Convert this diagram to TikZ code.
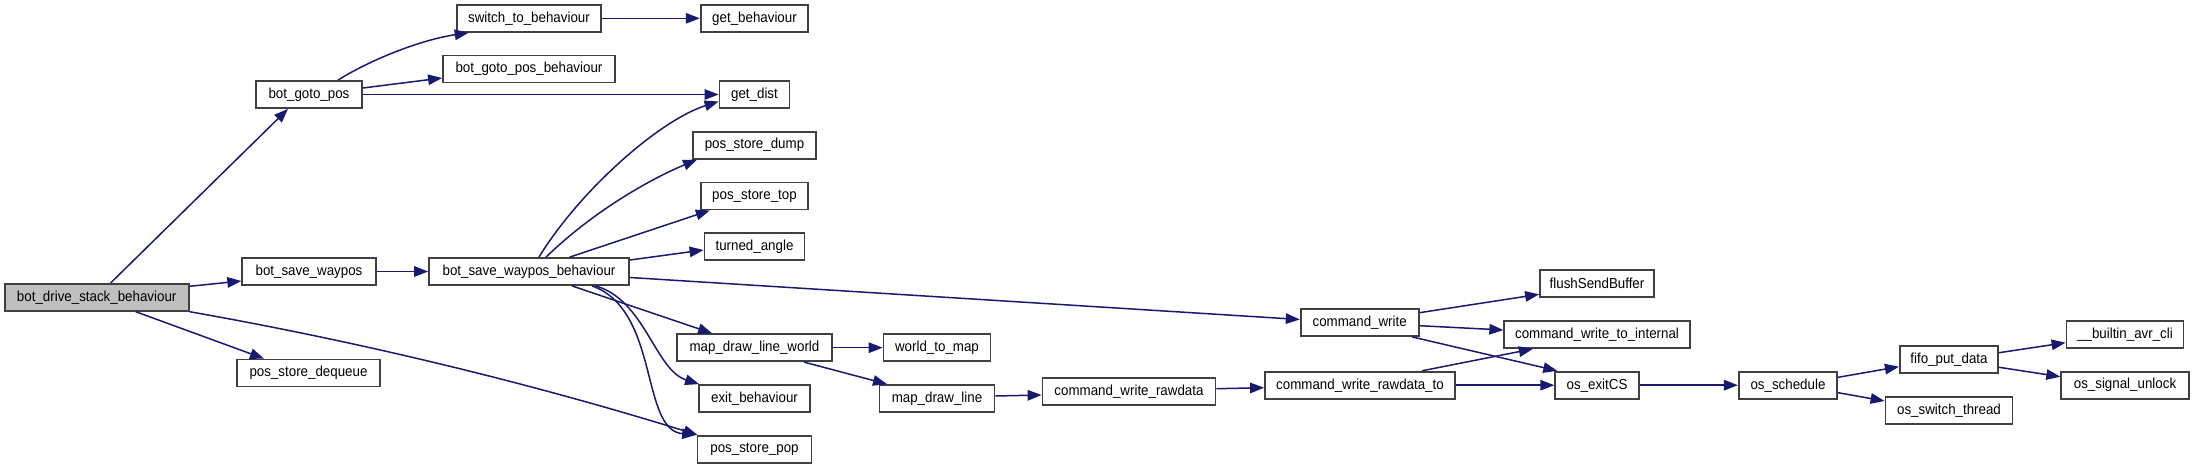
\documentclass[tikz,border=0pt]{standalone}
\usepackage{fontspec}
\setmainfont{Liberation Sans}[FakeStretch=0.92]
\usetikzlibrary{arrows.meta}
\definecolor{edgeblue}{HTML}{191970}
\begin{document}
\begin{tikzpicture}[x=1pt,y=-1pt,
 fn/.style={draw=black!75, line width=1.8pt, rectangle, minimum height=27pt, inner sep=0pt, font=\fontsize{14.5}{16}\selectfont, fill=white},
 callarrow/.style={draw=edgeblue, line width=1.5pt, -{Triangle[length=14pt,width=10.5pt]}}]
\useasboundingbox (0,0) rectangle (2195,468);
% nodes
\node[fn, minimum width=184pt, fill=black!25] (drive) at (96.7,297.3) {bot\_drive\_stack\_behaviour};
\node[fn, minimum width=106pt] (goto) at (309,94.5) {bot\_goto\_pos};
\node[fn, minimum width=144pt] (switch) at (529,18.3) {switch\_to\_behaviour};
\node[fn, minimum width=172pt] (gotobeh) at (529,69) {bot\_goto\_pos\_behaviour};
\node[fn, minimum width=133.5pt] (savew) at (309,271.5) {bot\_save\_waypos};
\node[fn, minimum width=200pt] (savewb) at (529,271.5) {bot\_save\_waypos\_behaviour};
\node[fn, minimum width=143pt] (dequeue) at (308.5,373) {pos\_store\_dequeue};
\node[fn, minimum width=107.6pt] (getbeh) at (754.5,18.3) {get\_behaviour};
\node[fn, minimum width=70pt] (getdist) at (754.5,94.5) {get\_dist};
\node[fn, minimum width=123pt] (dump) at (754.5,145.2) {pos\_store\_dump};
\node[fn, minimum width=107.6pt] (top) at (754.5,196) {pos\_store\_top};
\node[fn, minimum width=100pt] (turned) at (754.5,246.5) {turned\_angle};
\node[fn, minimum width=155pt] (mdlw) at (754.5,347.7) {map\_draw\_line\_world};
\node[fn, minimum width=111pt] (exitb) at (754.5,398.5) {exit\_behaviour};
\node[fn, minimum width=114pt] (pop) at (754.5,449.3) {pos\_store\_pop};
\node[fn, minimum width=107pt] (w2m) at (937,347.7) {world\_to\_map};
\node[fn, minimum width=115pt] (mdl) at (937,398.5) {map\_draw\_line};
\node[fn, minimum width=173pt] (cwr) at (1129,391.5) {command\_write\_rawdata};
\node[fn, minimum width=118pt] (cw) at (1359.7,322.5) {command\_write};
\node[fn, minimum width=190pt] (cwrt) at (1360,385.2) {command\_write\_rawdata\_to};
\node[fn, minimum width=114pt] (flush) at (1597,283.7) {flushSendBuffer};
\node[fn, minimum width=185.5pt] (cwti) at (1597,334.5) {command\_write\_to\_internal};
\node[fn, minimum width=83.7pt] (exitcs) at (1597,385.2) {os\_exitCS};
\node[fn, minimum width=98.4pt] (sched) at (1788,385.2) {os\_schedule};
\node[fn, minimum width=98.4pt] (fifo) at (1949,359.8) {fifo\_put\_data};
\node[fn, minimum width=127pt] (switcht) at (1949,410.5) {os\_switch\_thread};
\node[fn, minimum width=117pt] (avrcli) at (2125,334.5) {\_\_builtin\_avr\_cli};
\node[fn, minimum width=127.6pt] (unlock) at (2125,385.2) {os\_signal\_unlock};
% edges
\draw[callarrow] ([xshift=14pt]drive.north) -- ([xshift=-21pt]goto.south);
\draw[callarrow] ([yshift=11pt]drive.east) -- ([yshift=-9.5pt]savew.west);
\draw[callarrow] ([xshift=39pt]drive.south) -- ([xshift=-44.5pt]dequeue.north);
\draw[callarrow] (drive.south east) .. controls (350,340) and (520,380) .. ([xshift=1pt]pop.north west);
\draw[callarrow] ([xshift=29pt]goto.north) .. controls (370,60) and (420,40) .. ([xshift=12.6pt]switch.south west);
\draw[callarrow] ([yshift=6.5pt]goto.east) -- ([yshift=-9pt]gotobeh.west);
\draw[callarrow] (goto.east) -- (getdist.west);
\draw[callarrow] (switch.east) -- (getbeh.west);
\draw[callarrow] (savew.east) -- (savewb.west);
\draw[callarrow] ([xshift=10pt]savewb.north) .. controls (580,190) and (660,120) .. ([yshift=-7pt]getdist.west);
\draw[callarrow] ([xshift=17pt]savewb.north) .. controls (600,205) and (660,175) .. ([xshift=5pt]dump.south west);
\draw[callarrow] ([xshift=40.6pt]savewb.north) -- ([xshift=10pt]top.south west);
\draw[callarrow] ([yshift=11.5pt]savewb.east) -- ([yshift=-3.5pt]turned.west);
\draw[callarrow] ([yshift=-6pt]savewb.east) -- ([yshift=3pt]cw.west);
\draw[callarrow] ([xshift=43pt]savewb.south) -- ([xshift=36pt]mdlw.north west);
\draw[callarrow] ([xshift=66.6pt]savewb.south) .. controls (645,300) and (655,370) .. ([xshift=1pt]exitb.north west);
\draw[callarrow] ([xshift=63pt]savewb.south) .. controls (660,310) and (640,430) .. ([xshift=-0.5pt]pop.north west);
\draw[callarrow] (mdlw.east) -- (w2m.west);
\draw[callarrow] ([xshift=49.5pt]mdlw.south) -- ([xshift=8.4pt]mdl.north west);
\draw[callarrow] ([yshift=2.5pt]mdl.east) -- ([yshift=-3.5pt]cwr.west);
\draw[callarrow] ([yshift=2.8pt]cwr.east) -- ([yshift=-2.5pt]cwrt.west);
\draw[callarrow] ([yshift=9.8pt]cw.east) -- ([yshift=-10.6pt]flush.west);
\draw[callarrow] ([yshift=-3.2pt]cw.east) -- ([yshift=4.5pt]cwti.west);
\draw[callarrow] ([xshift=52.3pt]cw.south) -- ([xshift=3pt]exitcs.north west);
\draw[callarrow] ([xshift=62pt]cwrt.north) -- ([xshift=29.5pt]cwti.south west);
\draw[callarrow] (cwrt.east) -- (exitcs.west);
\draw[callarrow] (exitcs.east) -- (sched.west);
\draw[callarrow] ([yshift=7.9pt]sched.east) -- ([yshift=-6.9pt]fifo.west);
\draw[callarrow] ([yshift=-7.5pt]sched.east) -- ([yshift=9.5pt]switcht.west);
\draw[callarrow] ([yshift=7.1pt]fifo.east) -- ([yshift=-8.2pt]avrcli.west);
\draw[callarrow] ([yshift=-7.5pt]fifo.east) -- ([yshift=8.5pt]unlock.west);
\end{tikzpicture}
\end{document}
